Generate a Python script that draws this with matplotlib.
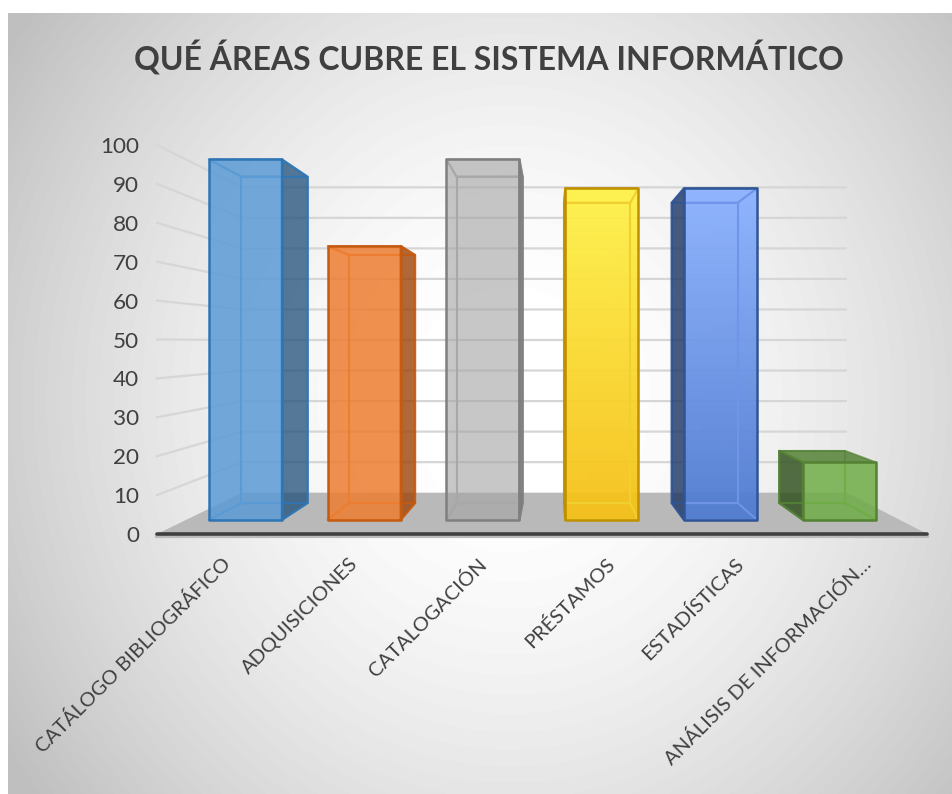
import numpy as np
import matplotlib
matplotlib.use('Agg')
import matplotlib.pyplot as plt
from matplotlib.patches import Polygon

categories = ['CATÁLOGO BIBLIOGRÁFICO', 'ADQUISICIONES', 'CATALOGACIÓN',
              'PRÉSTAMOS', 'ESTADÍSTICAS', 'ANÁLISIS DE INFORMACIÓN…']
values = [100, 76, 100, 92, 92, 16]
y_ticks = [0, 10, 20, 30, 40, 50, 60, 70, 80, 90, 100]

front_colors = ['#5B9BD5', '#ED7D31', '#A5A5A5', None, None, '#70AD47']
side_colors = ['#1F4E79', '#9E480E', '#6E6E6E', '#7F6000', '#1F3864', '#2F4F1C']
edge_colors = ['#2E75B6', '#C55A11', '#7F7F7F', '#BF9000', '#2F5597', '#548235']
inner_colors = ['#5B9BD5', '#ED7D31', '#A8A8A8', '#F0D030', '#6F94E8', '#70AD47']
gradients = {3: ('#FFF24A', '#F6C018'), 4: ('#8CB2FF', '#4F7BD0')}

text_color = '#404040'
plt.rcParams['font.family'] = ['Lato', 'DejaVu Sans']

W, H = 953, 794
fig = plt.figure(figsize=(W / 100, H / 100), dpi=100, facecolor='white')

# chart area background, radial grey to white
bg = fig.add_axes([8 / W, 0, (W - 8) / W, (H - 13) / H], zorder=0)
xx, yy = np.meshgrid(np.arange(8, W), np.arange(13, H))
r = np.sqrt(((xx - 510) / 480.0) ** 2 + ((yy - 400) / 520.0) ** 2)
shade = 255 - 64 * np.clip((r - 0.15) / 1.1, 0, 1) ** 1.5
bg.imshow(shade, cmap='gray', vmin=0, vmax=255, aspect='auto')
bg.axis('off')

# front plane of the chart box
ax = fig.add_axes([157 / W, (H - 534) / H, 769 / W, 389 / H], zorder=1)
ax.patch.set_alpha(0)
ax.set_xlim(0, 6)
ax.set_ylim(0, 100)
for s in ax.spines.values():
    s.set_visible(False)

# perspective: vanishing point in data units, scale 1 = front, BACK = back wall
VX, VY = 3.09, 49.4
BACK = 0.785
BAR_FRONT, BAR_BACK = 0.927, 0.839
BAR_W = 0.615


def proj(x, v, s):
    return (VX + s * (x - VX), VY + s * (v - VY))


def face(pts, **kw):
    kw.setdefault('clip_on', False)
    p = Polygon(pts, closed=True, **kw)
    ax.add_patch(p)
    return p


grid_color = '#D6D6D6'
for v in y_ticks[1:]:
    xs, ys = zip(proj(0, v, 1), proj(0, v, BACK), proj(6, v, BACK))
    ax.plot(xs, ys, color=grid_color, lw=1.6, zorder=1, clip_on=False)

# floor
face([proj(0, 0, 1), proj(6.01, 0, 1), proj(6.01, 0, BACK), proj(0, 0, BACK)],
     facecolor='#B9B9B9', edgecolor='none', zorder=2)

# x axis line with its soft shadow
ax.plot([0, 6.01], [-0.5, -0.5], color='#BBBBBB', lw=3, zorder=3, clip_on=False)
ax.plot([0, 6.01], [0, 0], color='#404040', lw=2.6, zorder=3.1, clip_on=False,
        solid_capstyle='round')

z = 4
for i, v in enumerate(values):
    x0, x1 = i + 0.5 - BAR_W / 2, i + 0.5 + BAR_W / 2
    ec = edge_colors[i]
    sx = x1 if i + 0.5 < VX else x0

    back = [proj(x0, 0, BAR_BACK), proj(x1, 0, BAR_BACK), proj(x1, v, BAR_BACK), proj(x0, v, BAR_BACK)]
    frnt = [proj(x0, 0, BAR_FRONT), proj(x1, 0, BAR_FRONT), proj(x1, v, BAR_FRONT), proj(x0, v, BAR_FRONT)]
    side = [proj(sx, 0, BAR_FRONT), proj(sx, 0, BAR_BACK), proj(sx, v, BAR_BACK), proj(sx, v, BAR_FRONT)]
    top = [proj(x0, v, BAR_FRONT), proj(x1, v, BAR_FRONT), proj(x1, v, BAR_BACK), proj(x0, v, BAR_BACK)]
    bot = [proj(x0, 0, BAR_FRONT), proj(x1, 0, BAR_FRONT), proj(x1, 0, BAR_BACK), proj(x0, 0, BAR_BACK)]

    face(side, facecolor=side_colors[i], alpha=0.75 if i == 0 else 0.82, edgecolor='none', zorder=z)
    if v < VY:
        face(top, facecolor=ec, alpha=0.85, edgecolor='none', zorder=z + 0.1)
    # far edges, dark where they stick out of the front face
    for poly in (back, top, bot):
        face(poly, facecolor='none', edgecolor=ec, lw=1.3, alpha=0.7, zorder=z + 0.15, joinstyle='round')

    if i in gradients:
        c0, c1 = matplotlib.colors.to_rgb(gradients[i][0]), matplotlib.colors.to_rgb(gradients[i][1])
        grad = np.linspace(0, 1, 256)[:, None, None] * (np.array(c1) - np.array(c0)) + np.array(c0)
        fy0, fy1 = frnt[0][1], frnt[2][1]
        im = ax.imshow(grad, extent=[frnt[0][0], frnt[1][0], fy0, fy1], origin='upper',
                       aspect='auto', zorder=z + 0.2, alpha=0.95)
        im.set_clip_on(False)
        ax.set_xlim(0, 6)
        ax.set_ylim(0, 100)
    else:
        face(frnt, facecolor=front_colors[i], alpha=0.85 if i != 2 else 0.62,
             edgecolor='none', zorder=z + 0.2)

    # far edges seen through the front face
    clip = Polygon(frnt, closed=True, transform=ax.transData)
    for poly in (back, top, bot):
        p = face(poly, facecolor='none', edgecolor=inner_colors[i], lw=1.5, zorder=z + 0.3,
                 joinstyle='round', clip_on=True)
        p.set_clip_path(clip)
    face(side, facecolor='none', edgecolor=ec, lw=1.6, alpha=0.8, zorder=z + 0.35, joinstyle='round')
    face(frnt, facecolor='none', edgecolor=ec, lw=1.8, zorder=z + 0.4, joinstyle='round')
    z += 1

ax.set_yticks(y_ticks)
ax.set_yticklabels([str(t) for t in y_ticks])
ax.set_xticks([i + 0.5 for i in range(len(categories))])
ax.set_xticklabels(categories, rotation=45, ha='right', rotation_mode='anchor')
ax.tick_params(axis='y', length=0, pad=13, labelsize=16.2, labelcolor=text_color)
ax.tick_params(axis='x', length=0, pad=15, labelsize=14.5, labelcolor=text_color)

fig.text(489 / W, 1 - 58 / H, 'QUÉ ÁREAS CUBRE EL SISTEMA INFORMÁTICO', ha='center', va='center',
         fontsize=23, fontweight='bold', color=text_color)

fig.savefig('out.png', dpi=100)
